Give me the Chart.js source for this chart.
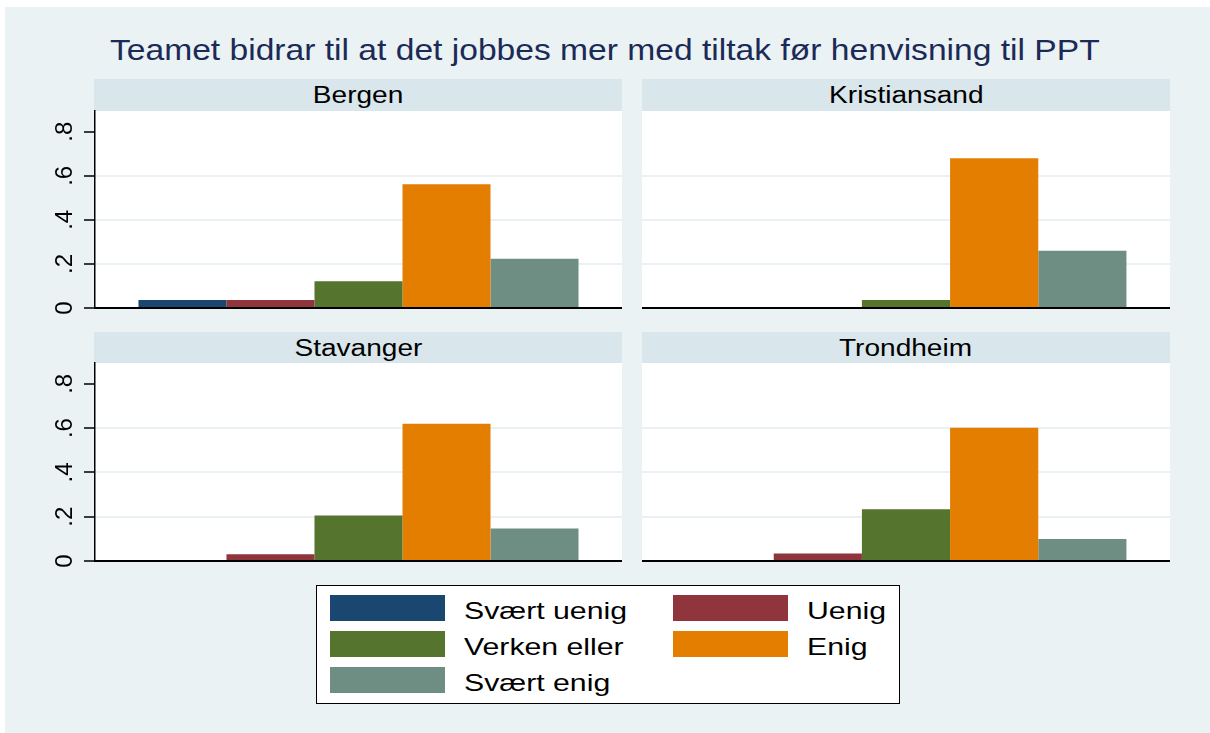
<!DOCTYPE html>
<html lang="no">
<head>
    <meta charset="UTF-8">
    <title>Teamet bidrar til at det jobbes mer med tiltak før henvisning til PPT</title>
    <script src="https://cdn.jsdelivr.net/npm/chart.js"></script>
    <style>
        * {
            margin: 0;
            padding: 0;
            box-sizing: border-box;
            font-family: "Liberation Sans", Arial, sans-serif;
        }
        body {
            width: 1210px;
            height: 733px;
            background: #fff;
            position: relative;
            overflow: hidden;
        }
        #frame {
            position: absolute;
            left: 5px;
            top: 7px;
            width: 1205px;
            height: 726px;
            background: #eaf2f3;
        }
        .abs { position: absolute; }
        #title {
            left: 0;
            width: 1210px;
            top: 35px;
            height: 30px;
            line-height: 30px;
            font-size: 30px;
            color: #1b2a56;
            text-align: center;
            white-space: nowrap;
        }
        #title span, .head span, .leg-text span {
            display: inline-block;
            transform-origin: center;
        }
        #title span { transform: scaleX(1.12); }
        .head {
            background: #d9e6eb;
            height: 32px;
            line-height: 32px;
            font-size: 23px;
            color: #000;
            text-align: center;
            white-space: nowrap;
        }
        .head span { transform: scaleX(1.22); }
        .panel { position: absolute; }
        #legend {
            left: 316px;
            top: 585px;
            width: 584px;
            height: 119px;
            background: #fff;
            border: 1px solid #000;
        }
        .swatch {
            position: absolute;
            width: 115px;
            height: 26px;
        }
        .leg-text {
            position: absolute;
            height: 26px;
            line-height: 26px;
            font-size: 24px;
            color: #000;
            white-space: nowrap;
        }
        .leg-text span { transform: scaleX(1.26); transform-origin: left center; }
    </style>
</head>
<body>
    <div id="frame"></div>
    <div id="title" class="abs"><span>Teamet bidrar til at det jobbes mer med tiltak før henvisning til PPT</span></div>
    <div id="panels"></div>
    <div id="legend" class="abs"></div>
    <script>
        // answer categories and share of respondents per city
        const cities = ['Bergen', 'Kristiansand', 'Stavanger', 'Trondheim'];
        const categories = ['Svært uenig', 'Uenig', 'Verken eller', 'Enig', 'Svært enig'];
        const bergen = [0.036, 0.036, 0.121, 0.562, 0.224];
        const kristiansand = [0, 0, 0.036, 0.680, 0.260];
        const stavanger = [0, 0.030, 0.205, 0.620, 0.147];
        const trondheim = [0, 0.034, 0.234, 0.602, 0.099];
        const yTicks = [0, 0.2, 0.4, 0.6, 0.8];
        const yMax = 0.894;

        const cityValues = [bergen, kristiansand, stavanger, trondheim];
        const barColors = ['#1a476f', '#90353b', '#55752f', '#e37e00', '#6e8e84'];

        // panel boxes: [plot left, plot top, plot width, plot height, header top]
        const boxes = [
            [95, 111, 527, 197, 79],
            [642, 111, 528, 197, 79],
            [95, 363, 527, 198, 332],
            [642, 363, 528, 198, 332]
        ];
        const axisW = 60;   // room for the y tick labels on the left column
        const padTop = 2, padBottom = 14;

        const fmtTick = v => v === 0 ? '0' : v.toFixed(1).replace(/^0/, '');

        const panelsEl = document.getElementById('panels');

        cities.forEach((city, i) => {
            const [px, py, pw, ph, hy] = boxes[i];
            const leftCol = (i % 2 === 0);

            const head = document.createElement('div');
            head.className = 'head abs';
            head.style.left = (px - (leftCol ? 1 : 0)) + 'px';
            head.style.top = hy + 'px';
            head.style.width = (pw + (leftCol ? 1 : 0)) + 'px';
            head.innerHTML = '<span>' + city + '</span>';
            panelsEl.appendChild(head);

            // white plot background
            const bg = document.createElement('div');
            bg.className = 'abs';
            bg.style.cssText = `left:${px}px;top:${py}px;width:${pw}px;height:${ph}px;background:#fff;`;
            panelsEl.appendChild(bg);

            const yw = leftCol ? axisW : 0;
            const wrap = document.createElement('div');
            wrap.className = 'panel';
            wrap.style.left = (px - yw) + 'px';
            wrap.style.top = (py - padTop) + 'px';
            wrap.style.width = (pw + yw) + 'px';
            wrap.style.height = (ph + padTop + padBottom) + 'px';
            const cv = document.createElement('canvas');
            wrap.appendChild(cv);
            panelsEl.appendChild(wrap);

            new Chart(cv, {
                type: 'bar',
                data: {
                    labels: [city],
                    datasets: categories.map((c, k) => ({
                        label: c,
                        data: [cityValues[i][k]],
                        backgroundColor: barColors[k],
                        borderWidth: 0,
                        categoryPercentage: 0.835,
                        barPercentage: 1.0
                    }))
                },
                options: {
                    responsive: true,
                    maintainAspectRatio: false,
                    animation: false,
                    events: [],
                    layout: { padding: { top: padTop, bottom: padBottom, left: 0, right: 0 } },
                    plugins: {
                        legend: { display: false },
                        tooltip: { enabled: false },
                        title: { display: false }
                    },
                    scales: {
                        x: {
                            grid: { display: false, drawTicks: false },
                            ticks: { display: false },
                            border: { display: true, color: '#000', width: 2 },
                            afterFit: s => { s.height = 0; s.paddingLeft = 0; s.paddingRight = 0; }
                        },
                        y: {
                            min: 0,
                            max: yMax,
                            afterBuildTicks: s => { s.ticks = yTicks.map(v => ({ value: v })); },
                            ticks: {
                                display: leftCol,
                                minRotation: 90,
                                maxRotation: 90,
                                crossAlign: 'center',
                                padding: 9,
                                color: '#000',
                                font: { family: 'Liberation Sans', size: 24 },
                                callback: v => fmtTick(v)
                            },
                            grid: {
                                drawTicks: leftCol,
                                tickLength: 11,
                                tickWidth: 1.5,
                                tickColor: '#000',
                                lineWidth: 2,
                                color: ctx => (ctx.tick && ctx.tick.value > 0 && ctx.tick.value < 0.7) ? '#e9f1f2' : 'rgba(0,0,0,0)'
                            },
                            border: { display: leftCol, color: '#000', width: 1.5 },
                            afterFit: s => { s.width = yw; s.paddingTop = 0; s.paddingBottom = 0; }
                        }
                    }
                }
            });
        });

        // legend: two columns, filled row by row
        const legendEl = document.getElementById('legend');
        categories.forEach((c, k) => {
            const col = k % 2, row = Math.floor(k / 2);
            const sx = col === 0 ? 13 : 356;
            const tx = col === 0 ? 147 : 490;
            const sy = 9 + row * 36;
            const sw = document.createElement('div');
            sw.className = 'swatch';
            sw.style.cssText = `left:${sx}px;top:${sy}px;background:${barColors[k]};`;
            legendEl.appendChild(sw);
            const tt = document.createElement('div');
            tt.className = 'leg-text';
            tt.style.left = tx + 'px';
            tt.style.top = (sy + 3) + 'px';
            tt.innerHTML = '<span>' + c + '</span>';
            legendEl.appendChild(tt);
        });
    </script>
</body>
</html>
